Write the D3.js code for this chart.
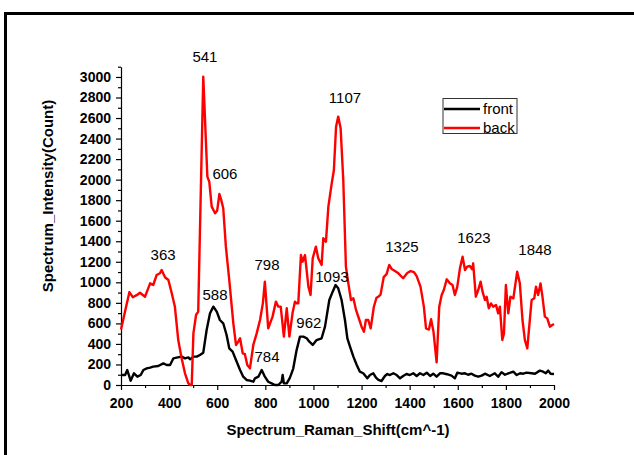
<!DOCTYPE html>
<html>
<head>
<meta charset="utf-8">
<script src="https://cdn.jsdelivr.net/npm/d3@7/dist/d3.min.js"></script>
<style>
body { margin: 0; background: #ffffff; }
</style>
</head>
<body>
<svg id="chart" width="634" height="455"></svg>
<script>
// front 측정값 (Raman shift, count)
var frontShift = [200, 217, 226, 240, 254, 268, 282, 293, 307, 321, 334, 355, 376, 390, 404, 418, 431, 452, 466, 480,
	487, 501, 515, 528, 542, 556, 570, 584, 598, 611, 625, 639, 650, 664, 678, 695, 708, 722, 736, 750,
	757, 771, 785, 798, 812, 826, 840, 854, 868, 872, 877, 889, 902, 916, 930, 944, 958, 972, 983, 997,
	1013, 1034, 1048, 1066, 1080, 1092, 1103, 1117, 1131, 1141, 1152, 1166, 1180, 1193, 1207, 1224, 1235, 1249, 1260, 1270,
	1283, 1297, 1307, 1318, 1332, 1346, 1360, 1373, 1387, 1401, 1415, 1429, 1443, 1457, 1471, 1485, 1498, 1512, 1526, 1540,
	1555, 1574, 1588, 1598, 1615, 1630, 1643, 1657, 1671, 1685, 1699, 1713, 1733, 1754, 1768, 1782, 1796, 1810, 1831, 1845,
	1859, 1872, 1886, 1907, 1921, 1941, 1955, 1966, 1976, 1986, 2000];
var frontCount = [97, 97, 146, 42, 114, 81, 97, 146, 162, 169, 179, 185, 211, 195, 195, 260, 266, 276, 260, 269,
	250, 276, 276, 292, 315, 536, 698, 763, 714, 633, 601, 487, 357, 325, 244, 146, 81, 49, 42, 32,
	65, 81, 146, 81, 32, 16, 0, 0, 32, 97, 16, 16, 70, 160, 340, 471, 471, 455, 422, 390,
	438, 455, 568, 828, 909, 974, 942, 828, 633, 455, 373, 276, 195, 130, 114, 65, 97, 114, 71, 49,
	39, 88, 107, 97, 114, 97, 65, 88, 107, 97, 114, 88, 114, 97, 120, 88, 110, 81, 114, 114,
	105, 91, 65, 120, 110, 114, 100, 110, 91, 81, 91, 110, 88, 114, 80, 125, 100, 114, 130, 97,
	114, 110, 120, 114, 110, 140, 130, 114, 140, 110, 107];

// back 측정값 (Raman shift, count)
var backShift = [200, 235, 249, 265, 279, 300, 321, 334, 348, 362, 369, 383, 397, 411, 424, 438, 452, 466, 480, 488,
	494, 501, 512, 521, 542, 559, 567, 577, 591, 600, 609, 617, 625, 636, 650, 667, 678, 687, 695, 706,
	715, 725, 736, 750, 764, 778, 790, 798, 812, 830, 844, 854, 864, 877, 889, 900, 913, 923, 930, 937,
	948, 955, 965, 979, 988, 997, 1010, 1020, 1034, 1041, 1052, 1062, 1076, 1085, 1094, 1103, 1113, 1124, 1135, 1145,
	1156, 1166, 1177, 1191, 1200, 1210, 1218, 1228, 1238, 1251, 1262, 1270, 1279, 1292, 1304, 1315, 1325, 1339, 1353, 1373,
	1390, 1404, 1418, 1429, 1445, 1459, 1468, 1480, 1489, 1499, 1512, 1523, 1533, 1542, 1554, 1567, 1578, 1588, 1598, 1609,
	1620, 1630, 1639, 1650, 1660, 1664, 1675, 1685, 1695, 1703, 1713, 1720, 1729, 1738, 1747, 1759, 1768, 1775, 1785, 1792,
	1800, 1810, 1819, 1831, 1838, 1847, 1858, 1869, 1879, 1889, 1897, 1907, 1918, 1925, 1934, 1944, 1952, 1962, 1972, 1983,
	1993, 2000];
var backCount = [540, 905, 855, 875, 899, 860, 990, 974, 1071, 1088, 1120, 1049, 1023, 893, 763, 438, 260, 114, 16, 0,
	0, 503, 682, 714, 3003, 2029, 1980, 1737, 1672, 1700, 1860, 1800, 1721, 1347, 1023, 601, 390, 420, 455, 308,
	300, 195, 162, 390, 503, 633, 800, 1006, 552, 666, 812, 763, 763, 471, 747, 471, 698, 812, 795, 795,
	1266, 1201, 1266, 958, 877, 1234, 1347, 1234, 1169, 1429, 1396, 1737, 1964, 2094, 2516, 2614, 2500, 1997, 1153, 990,
	828, 844, 731, 633, 568, 519, 633, 633, 552, 760, 850, 860, 880, 1050, 1080, 1169, 1130, 1110, 1088, 1040,
	1090, 1110, 1100, 1060, 958, 763, 552, 540, 640, 520, 220, 763, 877, 925, 1029, 990, 974, 877, 958, 1136,
	1250, 1120, 1153, 1159, 1127, 1185, 860, 925, 1006, 909, 828, 860, 747, 795, 763, 779, 698, 763, 438, 503,
	974, 698, 860, 844, 958, 1104, 990, 633, 438, 357, 568, 828, 844, 958, 877, 990, 860, 666, 649, 568,
	584, 594];

// 피크 주석
var peakLabels = ["541", "606", "363", "588", "798", "784", "962", "1093", "1107", "1325", "1623", "1848"];
var peakShift = [549, 632, 375, 591, 807, 807, 981, 1077, 1131, 1368, 1667, 1921];
var peakCount = [3146, 2006, 1217, 828, 1120, 224, 555, 1003, 2747, 1295, 1383, 1266];

// 축 눈금
var xTicks = [200, 400, 600, 800, 1000, 1200, 1400, 1600, 1800, 2000];
var xMinorTicks = [300, 500, 700, 900, 1100, 1300, 1500, 1700, 1900];
var yTicks = [0, 200, 400, 600, 800, 1000, 1200, 1400, 1600, 1800, 2000, 2200, 2400, 2600, 2800, 3000];
var yMinorTicks = [100, 300, 500, 700, 900, 1100, 1300, 1500, 1700, 1900, 2100, 2300, 2500, 2700, 2900, 3100];

var seriesNames = ["front", "back"];
var seriesColors = ["#000000", "#ff0000"];

/**
 * 라만 스펙트럼 차트 객체
 */
var ramanChartObj = {

	svg : null,
	x : null,
	y : null,

	layout : {
		left : 121,
		right : 554,
		top : 66.7,
		bottom : 385
	},

	init : function(id) {
		var that = this;
		that.svg = d3.select(id);
		that.x = d3.scaleLinear().domain([200, 2000]).range([that.layout.left, that.layout.right]);
		that.y = d3.scaleLinear().domain([0, 3100]).range([that.layout.bottom, that.layout.top]);
	},

	draw : function() {
		var that = this;
		that.drawFrame();
		that.drawAxes();
		that.drawSeries(frontShift, frontCount, seriesColors[0]);
		that.drawSeries(backShift, backCount, seriesColors[1]);
		that.drawPeaks();
		that.drawLegend();
		that.drawTitles();
	},

	/**
	 * 바깥 테두리
	 */
	drawFrame : function() {
		var that = this;
		that.svg.append("rect").attr("x", 5.5).attr("y", 13.5).attr("width", 660).attr("height", 480)
			.attr("fill", "none").attr("stroke", "#000000").attr("stroke-width", 3);
	},

	drawAxes : function() {
		var that = this;
		var font = "'Liberation Sans', Arial, sans-serif";
		var fmt = d3.format("d");

		var gx = that.svg.append("g").attr("transform", "translate(0," + that.layout.bottom + ")");
		gx.call(d3.axisBottom(that.x).tickValues(xMinorTicks).tickSize(3).tickFormat(""))
			.select(".domain").remove();
		var ax = that.svg.append("g").attr("transform", "translate(0," + that.layout.bottom + ")")
			.call(d3.axisBottom(that.x).tickValues(xTicks).tickFormat(fmt).tickSize(5).tickSizeOuter(0).tickPadding(8));
		ax.selectAll("text").attr("font-family", font).attr("font-size", "14px").attr("font-weight", "bold").attr("fill", "#000");

		var gy = that.svg.append("g").attr("transform", "translate(" + that.layout.left + ",0)");
		gy.call(d3.axisLeft(that.y).tickValues(yMinorTicks).tickSize(3).tickFormat(""))
			.select(".domain").remove();
		var ay = that.svg.append("g").attr("transform", "translate(" + that.layout.left + ",0)")
			.call(d3.axisLeft(that.y).tickValues(yTicks).tickFormat(fmt).tickSize(5).tickSizeOuter(0).tickPadding(5));
		ay.selectAll("text").attr("font-family", font).attr("font-size", "14px").attr("font-weight", "bold").attr("fill", "#000");

		that.svg.selectAll(".domain, .tick line").attr("stroke", "#000").attr("stroke-width", 1.2);
	},

	drawSeries : function(xs, ys, color) {
		var that = this;
		var line = d3.line()
			.x(function(d, i) { return that.x(xs[i]); })
			.y(function(d, i) { return that.y(ys[i]); });
		that.svg.append("path").datum(xs).attr("d", line)
			.attr("fill", "none").attr("stroke", color).attr("stroke-width", 2.4)
			.attr("stroke-linejoin", "round");
	},

	drawPeaks : function() {
		var that = this;
		for (var i = 0; i < peakLabels.length; i++) {
			that.svg.append("text").attr("x", that.x(peakShift[i])).attr("y", that.y(peakCount[i]))
				.attr("text-anchor", "middle").attr("font-family", "'Liberation Sans', Arial, sans-serif")
				.attr("font-size", "15px").attr("fill", "#000").text(peakLabels[i]);
		}
	},

	drawLegend : function() {
		var that = this;
		var g = that.svg.append("g").attr("transform", "translate(443,98.5)");
		g.append("rect").attr("x", 0).attr("y", 0).attr("width", 74).attr("height", 35)
			.attr("fill", "#ffffff").attr("stroke", "#333333").attr("stroke-width", 1);
		for (var i = 0; i < seriesNames.length; i++) {
			var ly = 10.5 + i * 19;
			g.append("line").attr("x1", 1).attr("x2", 37).attr("y1", ly).attr("y2", ly)
				.attr("stroke", seriesColors[i]).attr("stroke-width", 2.4);
			g.append("text").attr("x", 40).attr("y", ly + 5).attr("font-family", "'Liberation Sans', Arial, sans-serif")
				.attr("font-size", "15px").attr("fill", "#000").text(seriesNames[i]);
		}
	},

	drawTitles : function() {
		var that = this;
		var font = "'Liberation Sans', Arial, sans-serif";
		that.svg.append("text").attr("x", 338).attr("y", 435).attr("text-anchor", "middle")
			.attr("font-family", font).attr("font-size", "15px").attr("font-weight", "bold")
			.text("Spectrum_Raman_Shift(cm^-1)");
		that.svg.append("text").attr("transform", "translate(53,196) rotate(-90)").attr("text-anchor", "middle")
			.attr("font-family", font).attr("font-size", "15px").attr("font-weight", "bold")
			.text("Spectrum_Intensity(Count)");
	}
};

ramanChartObj.init("#chart");
ramanChartObj.draw();
</script>
</body>
</html>
